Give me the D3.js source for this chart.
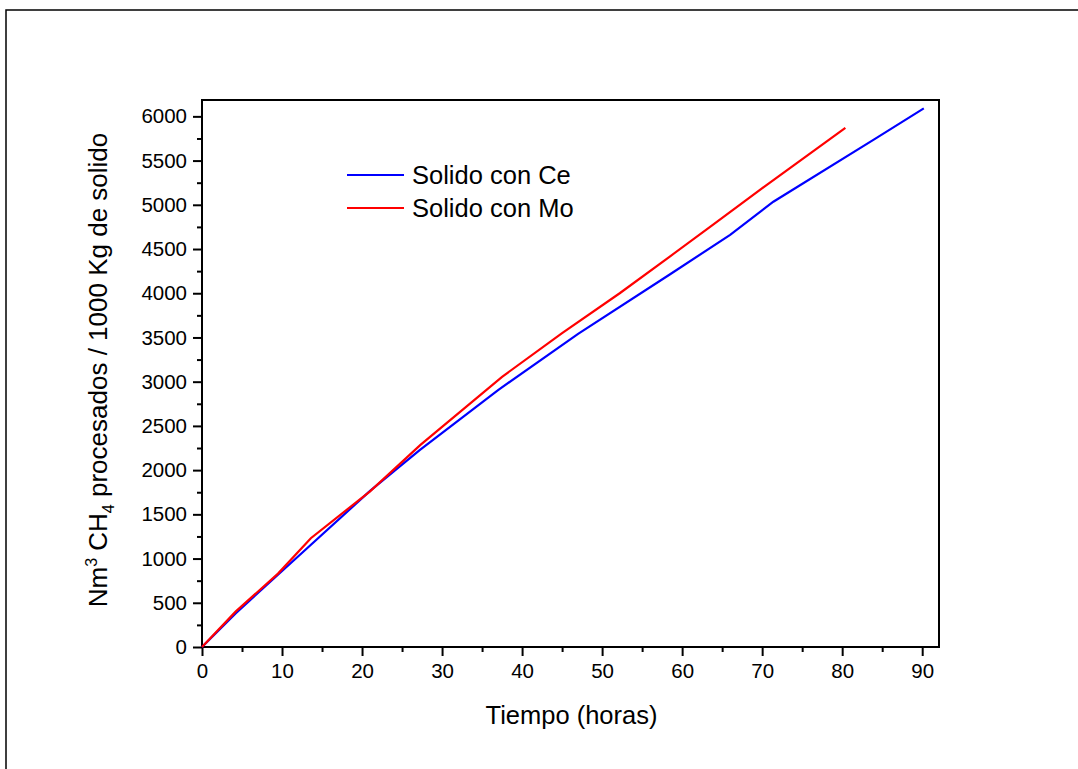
<!DOCTYPE html>
<html>
<head>
<meta charset="utf-8">
<script src="https://cdn.jsdelivr.net/npm/d3@7"></script>
<style>
  body { margin: 0; background: #fff; }
  text { font-family: Arial, "Liberation Sans", sans-serif; fill: #000; }
</style>
</head>
<body>
<svg id="chart" width="1078" height="769"></svg>
<script>
// data
const ceTime = [0, 4.2, 21, 27.2, 37, 47, 58.5, 66, 71.4, 84, 90.2];
const ceVol  = [0, 380, 1765, 2225, 2905, 3540, 4215, 4660, 5035, 5740, 6090];
const moTime = [0, 4.2, 9.5, 13.6, 21, 27.3, 37.5, 45, 52.2, 58.5, 64, 70.5, 80.4];
const moVol  = [0, 400, 830, 1230, 1760, 2285, 3055, 3550, 4000, 4418, 4785, 5220, 5870];
const seriesNames = ['Solido con Ce', 'Solido con Mo'];
const seriesColors = ['#0000ff', '#ff0000'];
const xTicks = [0, 10, 20, 30, 40, 50, 60, 70, 80, 90];
const yTicks = [0, 500, 1000, 1500, 2000, 2500, 3000, 3500, 4000, 4500, 5000, 5500, 6000];

const svg = d3.select('#chart');
const plotL = 202, plotR = 939, plotT = 100, plotB = 647;

const x = d3.scaleLinear().domain([0, 92.1]).range([plotL, plotR]);
const y = d3.scaleLinear().domain([0, 6185]).range([plotB, plotT]);

// outer frame
svg.append('rect')
  .attr('x', 6).attr('y', 10)
  .attr('width', 1100).attr('height', 800)
  .attr('fill', 'none')
  .attr('stroke', '#000')
  .attr('stroke-width', 1.5);

// minor ticks
const xMinor = d3.range(5, 92, 10);
const yMinor = d3.range(250, 6185, 500);

svg.append('g')
  .attr('transform', 'translate(0,' + plotB + ')')
  .call(d3.axisBottom(x).tickValues(xMinor).tickSize(5).tickFormat(''))
  .call(g => g.select('.domain').remove())
  .call(g => g.selectAll('line').attr('stroke-width', 2));

svg.append('g')
  .attr('transform', 'translate(' + plotL + ',0)')
  .call(d3.axisLeft(y).tickValues(yMinor).tickSize(5).tickFormat(''))
  .call(g => g.select('.domain').remove())
  .call(g => g.selectAll('line').attr('stroke-width', 2));

// major ticks
svg.append('g')
  .attr('transform', 'translate(0,' + plotB + ')')
  .call(d3.axisBottom(x).tickValues(xTicks).tickSize(9).tickPadding(7).tickFormat(d3.format('d')))
  .call(g => g.select('.domain').remove())
  .call(g => g.selectAll('line').attr('stroke-width', 2))
  .call(g => g.selectAll('text').style('font-size', '20.5px').attr('fill', '#000'));

svg.append('g')
  .attr('transform', 'translate(' + plotL + ',0)')
  .call(d3.axisLeft(y).tickValues(yTicks).tickSize(9).tickPadding(6).tickFormat(d3.format('d')))
  .call(g => g.select('.domain').remove())
  .call(g => g.selectAll('line').attr('stroke-width', 2))
  .call(g => g.selectAll('text').style('font-size', '20.5px').attr('fill', '#000'));

// plot box
svg.append('rect')
  .attr('x', plotL).attr('y', plotT)
  .attr('width', plotR - plotL).attr('height', plotB - plotT)
  .attr('fill', 'none')
  .attr('stroke', '#000')
  .attr('stroke-width', 2);

// lines
const line = d3.line()
  .x(d => x(d[0]))
  .y(d => y(d[1]));

const series = [
  d3.zip(ceTime, ceVol),
  d3.zip(moTime, moVol)
];

svg.selectAll('.series')
  .data(series)
  .join('path')
  .attr('class', 'series')
  .attr('d', line)
  .attr('fill', 'none')
  .attr('stroke', (d, i) => seriesColors[i])
  .attr('stroke-width', 2.2);

// legend
const legend = svg.append('g').attr('transform', 'translate(347,175)');
seriesNames.forEach((name, i) => {
  legend.append('line')
    .attr('x1', 0).attr('x2', 57)
    .attr('y1', i * 33).attr('y2', i * 33)
    .attr('stroke', seriesColors[i])
    .attr('stroke-width', 2.2);
  legend.append('text')
    .attr('x', 65).attr('y', i * 33)
    .attr('dy', '0.36em')
    .style('font-size', '25.5px')
    .text(name);
});

// axis titles
svg.append('text')
  .attr('x', (plotL + plotR) / 2 + 1)
  .attr('y', 724)
  .attr('text-anchor', 'middle')
  .style('font-size', '25.5px')
  .text('Tiempo (horas)');

const yTitle = svg.append('text')
  .attr('transform', 'translate(107,370) rotate(-90)')
  .attr('text-anchor', 'middle')
  .style('font-size', '26px');
yTitle.append('tspan').text('Nm');
yTitle.append('tspan').attr('dy', -10).style('font-size', '16px').text('3');
yTitle.append('tspan').attr('dy', 10).text(' CH');
yTitle.append('tspan').attr('dy', 7).style('font-size', '16px').text('4');
yTitle.append('tspan').attr('dy', -7).text(' procesados / 1000 Kg de solido');
</script>
</body>
</html>
